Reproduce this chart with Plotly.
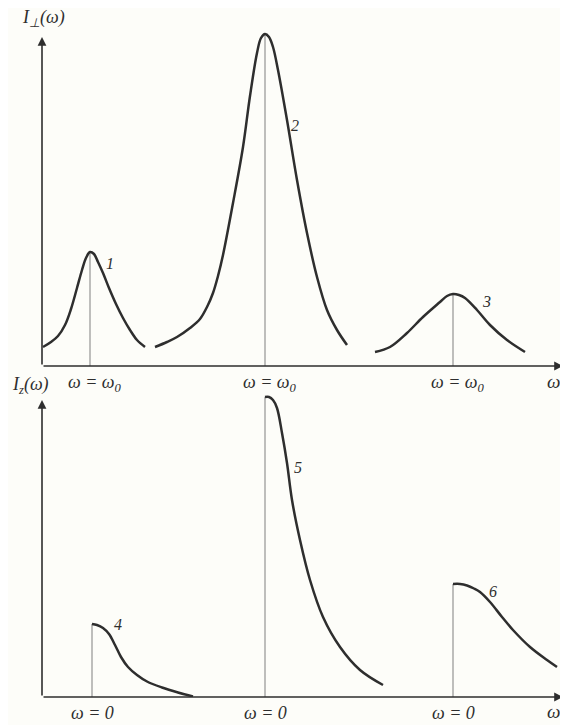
import plotly.graph_objects as go

# ---- data (arbitrary units) ----
# top panel: I_perp(omega), three resonance curves
c1_x = [0.02, 0.18, 0.32, 0.46, 0.58, 0.70, 0.80, 0.88, 0.96, 1.04, 1.12, 1.22, 1.34, 1.48, 1.62, 1.76, 1.90, 2.06]
c1_y = [0.38, 0.48, 0.60, 0.82, 1.14, 1.56, 1.92, 2.16, 2.28, 2.24, 2.08, 1.86, 1.56, 1.24, 0.96, 0.72, 0.52, 0.38]
c2_x = [2.26, 2.50, 2.70, 2.96, 3.16, 3.30, 3.42, 3.52, 3.62, 3.82, 4.02, 4.16, 4.30, 4.38, 4.46, 4.54, 4.62, 4.72, 4.90, 5.10, 5.30, 5.50, 5.70, 5.90, 6.10]
c2_y = [0.38, 0.48, 0.58, 0.76, 0.94, 1.18, 1.46, 1.80, 2.22, 3.26, 4.38, 5.40, 6.26, 6.56, 6.64, 6.58, 6.38, 5.92, 4.92, 3.72, 2.66, 1.78, 1.12, 0.72, 0.42]
c3_x = [6.66, 6.96, 7.30, 7.62, 7.96, 8.10, 8.22, 8.34, 8.46, 8.70, 8.96, 9.30, 9.66]
c3_y = [0.28, 0.38, 0.66, 0.98, 1.28, 1.40, 1.44, 1.42, 1.36, 1.12, 0.82, 0.52, 0.28]
top_centers = [0.96, 4.46, 8.22]
top_peaks = [2.28, 6.64, 1.44]

# bottom panel: I_z(omega), three decaying curves starting at omega = 0
c4_x = [1.00, 1.10, 1.22, 1.34, 1.46, 1.58, 1.72, 1.90, 2.10, 2.40, 2.72, 3.02]
c4_y = [1.46, 1.44, 1.38, 1.26, 1.04, 0.80, 0.60, 0.44, 0.31, 0.19, 0.09, 0.01]
c5_x = [4.46, 4.54, 4.62, 4.70, 4.80, 4.90, 5.00, 5.16, 5.36, 5.62, 5.96, 6.36, 6.82]
c5_y = [6.00, 6.00, 5.94, 5.78, 5.28, 4.68, 3.94, 3.14, 2.34, 1.60, 1.00, 0.54, 0.24]
c6_x = [8.22, 8.36, 8.50, 8.64, 8.76, 8.96, 9.20, 9.42, 9.76, 10.10, 10.30]
c6_y = [2.26, 2.26, 2.23, 2.17, 2.10, 1.90, 1.60, 1.34, 1.00, 0.74, 0.60]
bot_centers = [1.00, 4.46, 8.22]
bot_peaks = [1.46, 6.00, 2.26]

curve_labels_top = ["1", "2", "3"]
curve_labels_top_pos = [(1.36, 2.06), (5.06, 4.82), (8.88, 1.30)]
curve_labels_bot = ["4", "5", "6"]
curve_labels_bot_pos = [(1.52, 1.44), (5.12, 4.58), (9.02, 2.10)]

top_tick_text = "ω = ω<sub>0</sub>"
bot_tick_text = "ω = 0"
x_label = "ω"
y_top_label = "I<sub>⊥</sub>(ω)"
y_bot_label = "I<sub>z</sub>(ω)"

INK = "#2e2e2e"
THIN = "#8a8a8a"
FONT = "Liberation Serif"

fig = go.Figure()

def curve(x, y, xa, ya):
    fig.add_trace(go.Scatter(x=x, y=y, mode="lines", xaxis=xa, yaxis=ya,
                             line=dict(color=INK, width=2.5, shape="spline", smoothing=1.0),
                             hoverinfo="skip", showlegend=False))

def vline(xc, top, xa, ya):
    fig.add_trace(go.Scatter(x=[xc, xc], y=[0, top], mode="lines", xaxis=xa, yaxis=ya,
                             line=dict(color=THIN, width=1.1),
                             hoverinfo="skip", showlegend=False))

for xc, pk in zip(top_centers, top_peaks):
    vline(xc, pk, "x", "y")
for xc, pk in zip(bot_centers, bot_peaks):
    vline(xc, pk, "x2", "y2")

curve(c1_x, c1_y, "x", "y")
curve(c2_x, c2_y, "x", "y")
curve(c3_x, c3_y, "x", "y")
curve(c4_x, c4_y, "x2", "y2")
curve(c5_x, c5_y, "x2", "y2")
curve(c6_x, c6_y, "x2", "y2")

ann = []
def arrow(x0, y0, x1, y1, xr, yr):
    ann.append(dict(x=x1, y=y1, ax=x0, ay=y0, xref=xr, yref=yr, axref=xr, ayref=yr,
                    text="", showarrow=True, arrowhead=2, arrowsize=1.1,
                    arrowwidth=1.6, arrowcolor=INK))

# axes drawn as arrows
arrow(0, 0, 0, 6.58, "x", "y")
arrow(0, 0, 10.42, 0, "x", "y")
arrow(0, 0, 0, 5.94, "x2", "y2")
arrow(0, 0, 10.42, 0, "x2", "y2")

def text(x, y, s, xr, yr, size=15, yshift=0):
    ann.append(dict(x=x, y=y, xref=xr, yref=yr, text=s, showarrow=False,
                    xanchor="center", yanchor="middle", yshift=yshift,
                    font=dict(family=FONT, size=size, color=INK)))

for xc in top_centers:
    text(xc + 0.10, 0, "<i>" + top_tick_text + "</i>", "x", "y", size=18, yshift=-17)
for xc in bot_centers:
    text(xc, 0, "<i>" + bot_tick_text + "</i>", "x2", "y2", size=18, yshift=-16)
text(10.22, 0, "<i>" + x_label + "</i>", "x", "y", size=19, yshift=-15)
text(10.22, 0, "<i>" + x_label + "</i>", "x2", "y2", size=19, yshift=-15)
text(0.02, 6.96, "<i>" + y_top_label + "</i>", "x", "y", size=18)
text(-0.24, 6.22, "<i>" + y_bot_label + "</i>", "x2", "y2", size=18)

for s, (px, py) in zip(curve_labels_top, curve_labels_top_pos):
    text(px, py, "<i>" + s + "</i>", "x", "y", size=16)
for s, (px, py) in zip(curve_labels_bot, curve_labels_bot_pos):
    text(px, py, "<i>" + s + "</i>", "x2", "y2", size=16)

# page has an 8 px body margin: the figure is sized/offset to compensate
hidden = dict(showgrid=False, zeroline=False, showline=False, showticklabels=False, ticks="")
fig.update_layout(
    width=560, height=717,
    margin=dict(l=0, r=0, t=0, b=0),
    paper_bgcolor="#fdfdf9", plot_bgcolor="#fdfdf9",
    xaxis=dict(range=[-0.68, 10.52], domain=[0, 1], anchor="y", **hidden),
    yaxis=dict(range=[0, 7.16], domain=[0.5007, 1], anchor="x", **hidden),
    xaxis2=dict(range=[-0.68, 10.52], domain=[0, 1], anchor="y2", **hidden),
    yaxis2=dict(range=[0, 6.62], domain=[0.03905, 0.5007], anchor="x2", **hidden),
    annotations=ann,
    showlegend=False,
)

fig.write_html("out.html")
